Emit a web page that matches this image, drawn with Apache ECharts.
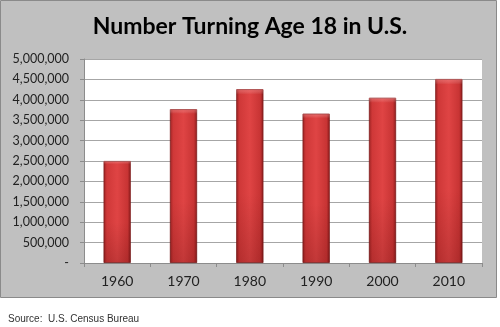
<!DOCTYPE html>
<html><head><meta charset="utf-8">
<script src="https://cdn.jsdelivr.net/npm/echarts@6/dist/echarts.min.js"></script>
<style>html,body{margin:0;padding:0;background:#fff}#c{width:500px;height:327px}</style>
</head><body><div id="c"></div>
<script>
const categories = ['1960','1970','1980','1990','2000','2010'];
const values = [2500000, 3770000, 4260000, 3660000, 4050000, 4510000];
const yMin = 0, yMax = 5000000, yStep = 500000;
const titleText = 'Number Turning Age 18 in U.S.';
const sourceText = 'Source:  U.S. Census Bureau';

const chart = echarts.init(document.getElementById('c'), null, {renderer:'canvas'});
const fmt = v => v === 0 ? '-' : v.toLocaleString('en-US');
chart.setOption({
  animation: false,
  backgroundColor: '#fff',
  graphic: [
    {type:'rect', z:-10, shape:{x:0.5,y:0.5,width:496,height:297}, style:{fill:'#c0c0c0', stroke:'#8a8a8a', lineWidth:1}},
    {type:'text', left:8, top:314, style:{text:sourceText, font:'10px "Liberation Sans"', fill:'#333'}}
  ],
  title: {text: titleText, left: 'center', top: 10,
    textStyle:{fontFamily:'Lato', fontWeight:'bold', fontSize:23, color:'#000'}},
  grid: {left:84, right:18, top:59, bottom:64, show:true, backgroundColor:'#fff', borderWidth:0},
  xAxis: {type:'category', data: categories,
    axisLine:{lineStyle:{color:'#8c8c8c'}},
    axisTick:{show:true, length:4, lineStyle:{color:'#8c8c8c'}},
    axisLabel:{fontFamily:'Lato', fontSize:14, color:'#222', margin:11}},
  yAxis: {type:'value', min:yMin, max:yMax, interval:yStep,
    axisLine:{show:true, lineStyle:{color:'#8c8c8c'}},
    axisTick:{show:true, length:4, lineStyle:{color:'#8c8c8c'}},
    splitLine:{lineStyle:{color:'#a6a6a6'}},
    axisLabel:{formatter: fmt, fontFamily:'Lato', fontSize:12.5, color:'#222', margin:15}},
  series: [{
    type:'bar', data: values, barWidth:'41%',
    itemStyle:{
      borderColor:'#7e1a1a', borderWidth:0.8,
      color: new echarts.graphic.LinearGradient(0,0,1,0,[
        {offset:0, color:'#9a2222'},
        {offset:0.12, color:'#cf3838'},
        {offset:0.5, color:'#df4444'},
        {offset:0.88, color:'#c83434'},
        {offset:1, color:'#8a1c1c'}
      ])
    }
  },{
    type:'bar', data: values, barWidth:'41%', barGap:'-100%', silent:true,
    itemStyle:{color: new echarts.graphic.LinearGradient(0,0,0,1,[
      {offset:0, color:'rgba(255,170,170,0.35)'},
      {offset:0.03, color:'rgba(255,255,255,0)'},
      {offset:0.6, color:'rgba(60,0,0,0.0)'},
      {offset:1, color:'rgba(60,0,0,0.18)'}
    ])}
  }]
});
</script></body></html>
